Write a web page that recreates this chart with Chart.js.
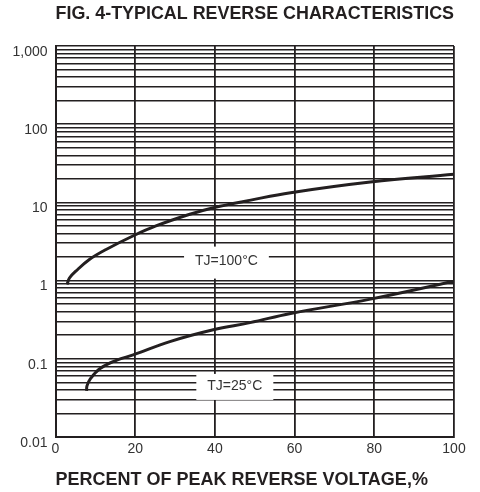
<!DOCTYPE html>
<html>
<head>
<meta charset="utf-8">
<script src="https://cdn.jsdelivr.net/npm/chart.js@4"></script>
<style>
  body { margin: 0; background: #fff; }
</style>
</head>
<body>
<canvas id="reverseChart" width="480" height="492"></canvas>
<script>
// percent of peak reverse voltage vs reverse current
var hotX = [2.9, 3.5, 5.1, 8.5, 12.7, 19.8, 25.2, 33.5, 39.4, 49, 59, 79, 100];
var hotY = [0.89, 1.08, 1.32, 1.86, 2.5, 3.8, 5.0, 7.0, 8.5, 10.7, 13.3, 18.2, 22.9];
var coldX = [7.8, 7.9, 8.7, 11.2, 15.4, 19.5, 28.7, 39.6, 48.8, 59, 79, 100];
var coldY = [0.039, 0.045, 0.055, 0.075, 0.096, 0.112, 0.166, 0.235, 0.29, 0.38, 0.58, 0.98];

var xTicks = [0, 20, 40, 60, 80, 100];
var yDecades = [0.01, 0.1, 1, 10, 100, 1000];
var yTickLabels = ['0.01', '0.1', '1', '10', '100', '1,000'];

var curveLabels = ['TJ=100°C', 'TJ=25°C'];
var curveLabelX = [42.9, 45.0];
var curveLabelY = [1.75, 0.045];

var ink = '#231f20';
var fontFamily = 'Arial, "Liberation Sans", sans-serif';

function toPoints(xs, ys) {
    return xs.map(function (x, i) { return { x: x, y: ys[i] }; });
}

// grid at 1..9 of every decade
var yGrid = [];
for (var d = 0; d < yDecades.length - 1; d++) {
    for (var m = 1; m <= 9; m++) {
        yGrid.push(Number((m * yDecades[d]).toPrecision(3)));
    }
}
yGrid.push(yDecades[yDecades.length - 1]);

var labelBoxes = {
    id: 'labelBoxes',
    afterDatasetsDraw: function (chart) {
        var ctx = chart.ctx;
        var xs = chart.scales.x, ys = chart.scales.y;
        var boxH = [32, 26];
        ctx.save();
        ctx.font = '14px ' + fontFamily;
        ctx.textAlign = 'center';
        ctx.textBaseline = 'middle';
        for (var i = 0; i < curveLabels.length; i++) {
            var px = xs.getPixelForValue(curveLabelX[i]);
            var py = ys.getPixelForValue(curveLabelY[i]);
            var w = ctx.measureText(curveLabels[i]).width + 22;
            ctx.fillStyle = '#fff';
            ctx.fillRect(px - w / 2, py - boxH[i] / 2 + 1, w, boxH[i]);
            ctx.fillStyle = '#333';
            ctx.fillText(curveLabels[i], px, py);
        }
        ctx.restore();
    }
};

var reverseCanvas = document.getElementById('reverseChart').getContext('2d');

var myChart = new Chart(reverseCanvas, {
    type: 'line',
    data: {
        datasets: [
            {
                label: 'TJ=100°C',
                data: toPoints(hotX, hotY),
                borderColor: ink,
                borderWidth: 3,
                backgroundColor: 'transparent',
                tension: 0.4
            },
            {
                label: 'TJ=25°C',
                data: toPoints(coldX, coldY),
                borderColor: ink,
                borderWidth: 3,
                backgroundColor: 'transparent',
                tension: 0.4
            }
        ]
    },
    plugins: [labelBoxes],
    options: {
        responsive: false,
        animation: false,
        layout: {
            padding: { top: 0, right: 26, bottom: 0, left: 0 }
        },
        plugins: {
            legend: { display: false },
            tooltip: { enabled: false },
            title: {
                display: true,
                fullSize: false,
                text: 'FIG. 4-TYPICAL REVERSE CHARACTERISTICS',
                color: ink,
                font: { family: fontFamily, size: 18, weight: 'bold' },
                padding: { top: 3, bottom: 21.4 }
            }
        },
        scales: {
            x: {
                type: 'linear',
                min: 0,
                max: 100,
                afterBuildTicks: function (scale) {
                    scale.ticks = xTicks.map(function (v) { return { value: v }; });
                },
                afterFit: function (scale) { scale.height = 55; },
                grid: {
                    color: ink,
                    lineWidth: 1.8,
                    drawTicks: false
                },
                border: { color: ink, width: 2 },
                ticks: {
                    color: '#333',
                    padding: 4,
                    font: { family: fontFamily, size: 14 }
                },
                title: {
                    display: true,
                    align: 'start',
                    text: 'PERCENT OF PEAK REVERSE VOLTAGE,%',
                    color: ink,
                    font: { family: fontFamily, size: 18, weight: 'bold' },
                    padding: { top: 0, bottom: 1.2 }
                }
            },
            y: {
                type: 'logarithmic',
                min: 0.01,
                max: 1000,
                afterBuildTicks: function (scale) {
                    scale.ticks = yGrid.map(function (v) { return { value: v }; });
                },
                afterFit: function (scale) { scale.width = 55.5; },
                grid: {
                    color: ink,
                    lineWidth: 1.6,
                    drawTicks: false
                },
                border: { color: ink, width: 2 },
                ticks: {
                    autoSkip: false,
                    color: '#333',
                    padding: 8,
                    labelOffset: 6,
                    font: { family: fontFamily, size: 14 },
                    callback: function (value) {
                        for (var i = 0; i < yDecades.length; i++) {
                            if (Math.abs(value - yDecades[i]) / yDecades[i] < 1e-6) {
                                return yTickLabels[i];
                            }
                        }
                        return '';
                    }
                }
            }
        },
        elements: {
            point: { radius: 0 }
        }
    }
});
</script>
</body>
</html>
